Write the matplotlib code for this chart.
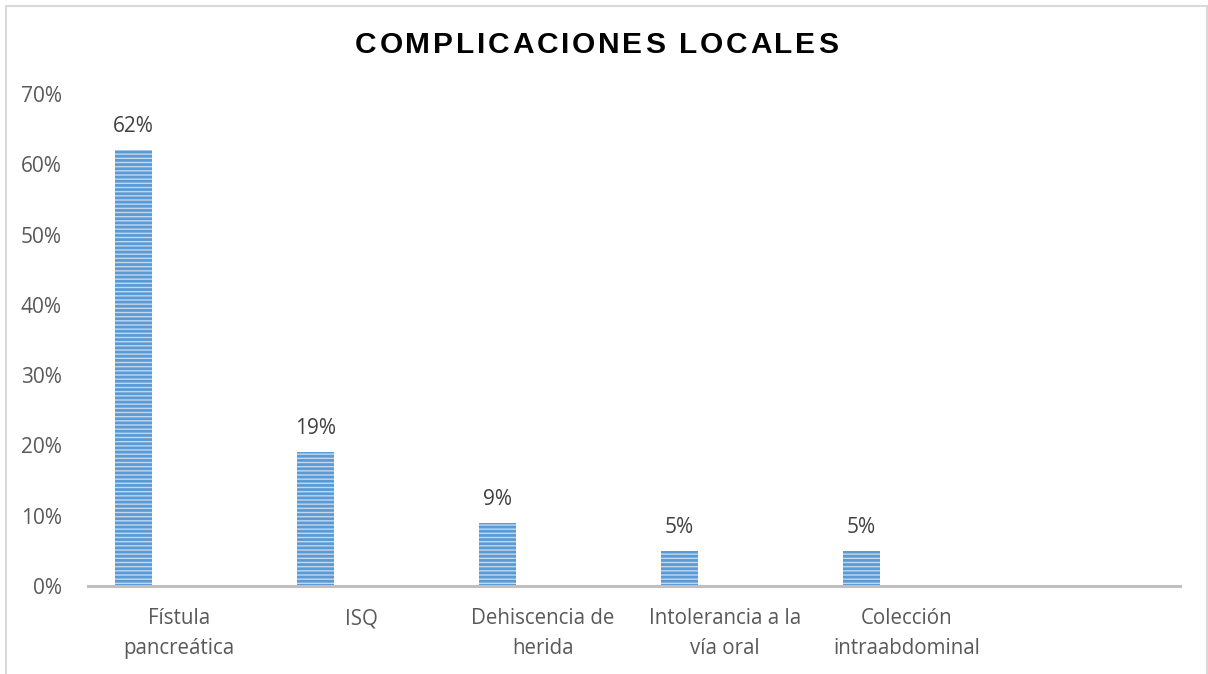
import numpy as np
import matplotlib
matplotlib.use("Agg")
import matplotlib.pyplot as plt
from matplotlib.patches import Rectangle
from matplotlib.transforms import IdentityTransform

# chart data
categories = ["Fístula\npancreática", "ISQ", "Dehiscencia de\nherida",
              "Intolerancia a la\nvía oral", "Colección\nintraabdominal", ""]
values = [0.62, 0.19, 0.09, 0.05, 0.05, np.nan]
value_labels = ["62%", "19%", "9%", "5%", "5%", ""]
yticks = [0, 0.1, 0.2, 0.3, 0.4, 0.5, 0.6, 0.7]
ytick_labels = ["0%", "10%", "20%", "30%", "40%", "50%", "60%", "70%"]
title = "COMPLICACIONES LOCALES"

W, H = 1208, 674
plt.rcParams["font.family"] = ["Open Sans", "DejaVu Sans"]
plt.rcParams["hatch.linewidth"] = 2.0

fig = plt.figure(figsize=(W / 100, H / 100), dpi=100)
ax = fig.add_axes([88 / W, 88 / H, (1180 - 88) / W, (586 - 94) / H])

x = np.arange(len(categories))
offset = -0.25  # first series of a clustered chart, sits left of the slot centre
bars = ax.bar(x + offset, values, width=0.2, facecolor="#c2d8ef",
              edgecolor="#5b9bd5", linewidth=0, hatch="----")

# data labels
for xi, v, lab in zip(x, values, value_labels):
    if lab:
        ax.annotate(lab, (xi + offset, v), xytext=(0, 9.5), textcoords="offset points",
                    ha="center", va="bottom", fontsize=15, color="#404040")

ax.set_xlim(-0.5, len(categories) - 0.5)
ax.set_ylim(0, 0.7)
ax.set_yticks(yticks)
ax.set_yticklabels(ytick_labels, fontsize=15, color="#595959")
ax.set_xticks(x)
ax.set_xticklabels(categories, fontsize=14.8, color="#595959", linespacing=1.55)
ax.tick_params(axis="y", length=0, pad=19)
ax.tick_params(axis="x", length=0, pad=16)

for s in ["top", "right", "left"]:
    ax.spines[s].set_visible(False)
ax.spines["bottom"].set_color("#bfbfbf")
ax.spines["bottom"].set_linewidth(2.2)

# chart area border
fig.add_artist(Rectangle((5.5 / W, -0.1), (1207 - 5.5) / W, (H - 6) / H + 0.1,
                         transform=fig.transFigure, fill=False,
                         edgecolor="#d9d9d9", linewidth=1.5))

# title with letter spacing, drawn glyph by glyph
renderer = fig.canvas.get_renderer()
tkw = dict(fontsize=21.5, fontweight="bold", color="black",
           family=["Liberation Sans", "DejaVu Sans"])
widths = []
for ch in title:
    t = fig.text(0, 0, ch if ch != " " else "\u00a0", transform=IdentityTransform(), **tkw)
    widths.append(t.get_window_extent(renderer).width)
    t.remove()
left, right = 355, 838
gap = (right - left - sum(widths)) / (len(title) - 1)
xpos = left
for ch, w in zip(title, widths):
    if ch != " ":
        fig.text(xpos, H - 53, ch, transform=IdentityTransform(),
                 ha="left", va="baseline", **tkw)
    xpos += w + gap

fig.savefig("out.png", dpi=100)
